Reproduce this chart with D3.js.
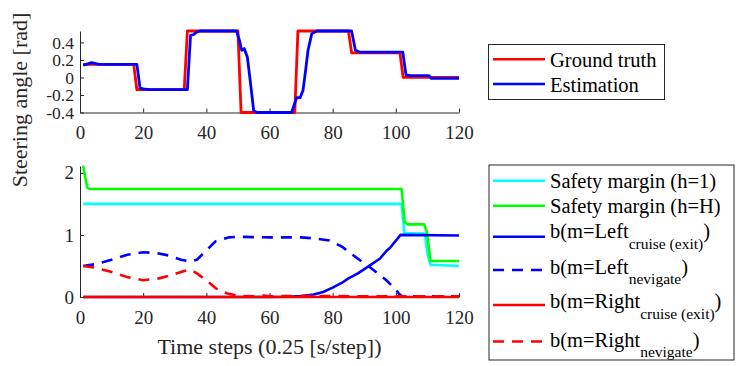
<!DOCTYPE html>
<html>
<head>
<meta charset="utf-8">
<script src="https://cdn.jsdelivr.net/npm/d3@7"></script>
<style>
body{margin:0;background:#fff;}
svg{display:block;font-family:"Liberation Serif","Times New Roman",serif;}
</style>
</head>
<body>
<svg id="chart" width="747" height="366"></svg>
<script>
// ---- data: [time step, value] ----
const groundTruth=[[1,0.15],[17,0.15],[18,-0.14],[33,-0.14],[34,0.53],[50,0.53],[51,-0.4],[68,-0.4],[69,0.53],[85,0.53],[86,0.28],[101.3,0.28],[102.3,0],[120,0]];
const estimation=[[1,0.14],[2,0.15],[3.7,0.17],[6,0.15],[18,0.15],[19,-0.12],[20,-0.13],[22,-0.14],[34,-0.14],[35,0.48],[36,0.49],[37,0.52],[38,0.53],[49.6,0.53],[50.5,0.42],[51.2,0.31],[52,0.33],[53,0.23],[54,-0.07],[55,-0.38],[56,-0.4],[67,-0.4],[68.6,-0.23],[69.7,-0.23],[70.6,-0.15],[71.5,0.1],[72.2,0.31],[73.4,0.5],[75,0.53],[86,0.53],[87.2,0.31],[88.5,0.29],[102.2,0.29],[103.2,0.03],[104.5,0.02],[110.5,0.02],[111.2,-0.01],[120,-0.01]];

const marginH1=[[1,1.5],[101.8,1.5],[102.7,1.03],[109.2,1.02],[110,0.7],[111,0.52],[120,0.5]];
const marginHH=[[1,2.11],[2.3,1.76],[3,1.74],[101.8,1.74],[102.8,1.21],[103.8,1.17],[109,1.17],[109.8,1.05],[111,0.58],[120,0.58]];
const leftCruise=[[1,0],[60,0],[66,0.005],[70,0.015],[74,0.04],[77,0.08],[80,0.15],[83,0.23],[85,0.3],[88,0.38],[91.8,0.51],[95,0.62],[97,0.74],[98.1,0.79],[101.5,1.0],[120,0.99]];
const leftNav=[[1,0.5],[5,0.53],[10,0.6],[15,0.68],[20,0.72],[24,0.71],[28,0.67],[32,0.6],[35,0.57],[37,0.6],[40,0.75],[43,0.9],[47,0.96],[50,0.97],[60,0.96],[70,0.96],[75,0.94],[79,0.91],[83,0.81],[86,0.69],[89,0.58],[92,0.47],[97,0.27],[100,0.12],[101,0.05],[102,0.01],[120,0.01]];
const rightCruise=[[1,0],[120,0]];
const rightNav=[[1,0.5],[5,0.47],[9.5,0.41],[15,0.32],[20,0.27],[25,0.3],[30,0.37],[33,0.42],[35,0.44],[37,0.38],[40,0.27],[43,0.14],[46.4,0.06],[50,0.02],[55,0.01],[58,0.025],[60,0.01],[65,0.015],[120,0.01]];

const xTicks=[0,20,40,60,80,100,120];
const yTopTicks=[-0.4,-0.2,0,0.2,0.4];
const yBotTicks=[0,1,2];

const axisColor='#262626';
const svg=d3.select('#chart');

const x=d3.scaleLinear().domain([0,120]).range([80,459]);
const yTop=d3.scaleLinear().domain([-0.4,0.53]).range([112.5,31]);
const yBot=d3.scaleLinear().domain([0,2.11]).range([297,166]);

const fmt=d=>d===0?'0':(d<0?'-':'')+d3.format('.1f')(Math.abs(d)).replace(/\.0$/,'');

function styleAxis(g,size){
  g.attr('font-size',size).attr('font-family','"Liberation Serif","Times New Roman",serif');
  g.selectAll('path,line').attr('stroke',axisColor).attr('stroke-width',1);
  g.selectAll('text').attr('fill',axisColor);
}

// top axes
svg.append('g').attr('transform','translate(0,112.5)')
  .call(d3.axisBottom(x).tickValues(xTicks).tickSizeInner(-4).tickSizeOuter(0).tickPadding(13))
  .call(styleAxis,19);
svg.append('g').attr('transform','translate(80,0)')
  .call(d3.axisLeft(yTop).tickValues(yTopTicks).tickFormat(fmt).tickSizeInner(-4).tickSizeOuter(0).tickPadding(6))
  .call(styleAxis,17.5);

// bottom axes
svg.append('g').attr('transform','translate(0,297)')
  .call(d3.axisBottom(x).tickValues(xTicks).tickSizeInner(-4).tickSizeOuter(0).tickPadding(14))
  .call(styleAxis,19);
svg.append('g').attr('transform','translate(80,0)')
  .call(d3.axisLeft(yBot).tickValues(yBotTicks).tickFormat(d3.format('d')).tickSizeInner(-4).tickSizeOuter(0).tickPadding(6))
  .call(styleAxis,19);

const lineTop=d3.line().x(d=>x(d[0])).y(d=>yTop(d[1]));
const lineBot=d3.line().x(d=>x(d[0])).y(d=>yBot(d[1]));

const topSeries=[
  {name:'Ground truth',data:groundTruth,color:'#ff0000',dash:null},
  {name:'Estimation',data:estimation,color:'#0000ff',dash:null}
];
const botSeries=[
  {parts:['Safety margin (h=1)'],data:marginH1,color:'#00ffff',dash:null},
  {parts:['Safety margin (h=H)'],data:marginHH,color:'#00ff00',dash:null},
  {parts:['b(m=Left','cruise (exit)',')'],data:leftCruise,color:'#0000ff',dash:null},
  {parts:['b(m=Left','nevigate',')'],data:leftNav,color:'#0000ff',dash:'11,8'},
  {parts:['b(m=Right','cruise (exit)',')'],data:rightCruise,color:'#ff0000',dash:null},
  {parts:['b(m=Right','nevigate',')'],data:rightNav,color:'#ff0000',dash:'11,8'}
];

svg.append('g').selectAll('path').data(topSeries).join('path')
  .attr('d',d=>lineTop(d.data)).attr('fill','none')
  .attr('stroke',d=>d.color).attr('stroke-width',2.8).attr('stroke-linejoin','round');

svg.append('g').selectAll('path').data(botSeries).join('path')
  .attr('d',d=>lineBot(d.data)).attr('fill','none')
  .attr('stroke',d=>d.color).attr('stroke-width',2.6)
  .attr('stroke-dasharray',d=>d.dash).attr('stroke-linejoin','round');

// axis labels
svg.append('text').attr('transform','translate(27,100) rotate(-90)')
  .attr('text-anchor','middle').attr('font-size',22).attr('fill',axisColor)
  .text('Steering angle [rad]');
svg.append('text').attr('x',269.5).attr('y',354)
  .attr('text-anchor','middle').attr('font-size',22).attr('fill',axisColor)
  .text('Time steps (0.25 [s/step])');

// legends
function legend(box,rows,series){
  const g=svg.append('g');
  g.append('rect').attr('x',box[0]).attr('y',box[1]).attr('width',box[2]).attr('height',box[3])
    .attr('fill','#fff').attr('stroke',axisColor).attr('stroke-width',1);
  series.forEach((s,i)=>{
    const r=rows[i];
    g.append('line').attr('x1',493).attr('x2',545).attr('y1',r[0]).attr('y2',r[0])
      .attr('stroke',s.color).attr('stroke-width',2.6).attr('stroke-dasharray',s.dash);
    const t=g.append('text').attr('x',550).attr('y',r[1]).attr('font-size',20.5).attr('fill','#000');
    const parts=s.parts||[s.name];
    t.append('tspan').text(parts[0]);
    if(parts.length>1){
      t.append('tspan').attr('font-size',15.5).attr('dy',10.5).text(parts[1]);
      t.append('tspan').attr('dy',-10.5).text(parts[2]);
    }
  });
}
legend([488.5,44.5,176,55],[[59.3,66.7],[84,91.7]],topSeries);
legend([489,165,245,195],[[180.7,187.5],[205.7,213],[236.7,238],[270,273.5],[305,308.3],[341.5,346.5]],botSeries);
</script>
</body>
</html>
